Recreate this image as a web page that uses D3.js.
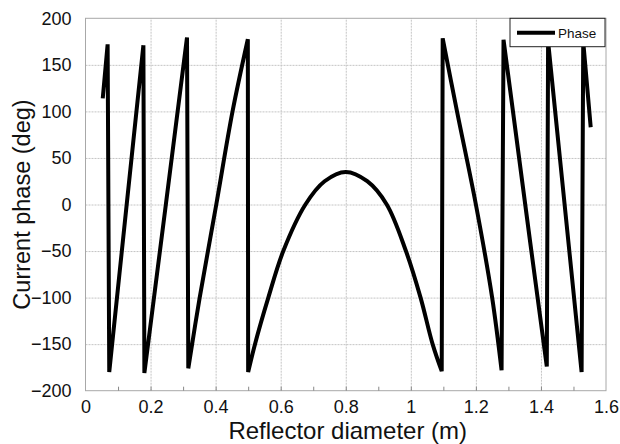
<!DOCTYPE html>
<html>
<head>
<meta charset="utf-8">
<script src="https://cdn.jsdelivr.net/npm/d3@7"></script>
<style>
  body { margin: 0; background: #fff; }
  svg { font-family: "Liberation Sans", Arial, sans-serif; }
</style>
</head>
<body>
<svg id="chart" width="620" height="444"></svg>
<script>
// phase vs reflector diameter
const diameter = [0.053, 0.068, 0.073, 0.1266, 0.178,
  0.181, 0.247, 0.312,
  0.316, 0.351, 0.402, 0.452, 0.499,
  0.500, 0.521, 0.562, 0.608, 0.676, 0.735, 0.800, 0.866, 0.926, 0.985, 1.030, 1.067, 1.095,
  1.098, 1.142, 1.200, 1.250, 1.279,
  1.285, 1.366, 1.418,
  1.422, 1.525,
  1.530, 1.553];
const phase = [114, 172, -180, 0, 171,
  -181, 0, 179.5,
  -176, -100, 0, 100, 177.5,
  -180, -150, -100, -50, 0, 25, 35, 25, 0, -50, -100, -150, -179,
  178.5, 100, 0, -100, -178,
  177, -38, -174,
  175, -180,
  175, 83];

const xTicks = [0, 0.2, 0.4, 0.6, 0.8, 1, 1.2, 1.4, 1.6];
const xMinorTicks = [0.1, 0.2, 0.3, 0.4, 0.5, 0.6, 0.7, 0.8, 0.9, 1, 1.1, 1.2, 1.3, 1.4, 1.5];
const yTicks = [-200, -150, -100, -50, 0, 50, 100, 150, 200];
const seriesName = 'Phase';
const xTitle = 'Reflector diameter (m)';
const yTitle = 'Current phase (deg)';

const margin = {left: 85.5, right: 606, top: 18.3, bottom: 390.7};
const svg = d3.select('#chart');

const x = d3.scaleLinear().domain([0, 1.6]).range([margin.left, margin.right]);
const y = d3.scaleLinear().domain([-200, 200]).range([margin.bottom, margin.top]);
const plotH = margin.bottom - margin.top;
const plotW = margin.right - margin.left;

// grid
svg.append('g')
    .attr('transform', `translate(0,${margin.bottom})`)
    .call(d3.axisBottom(x).tickValues(xTicks.slice(1, -1)).tickSize(-plotH).tickFormat(''))
    .call(g => g.select('.domain').remove())
    .selectAll('line').attr('stroke', '#c4c4c4').attr('stroke-dasharray', '2,1');
svg.append('g')
    .attr('transform', `translate(${margin.left},0)`)
    .call(d3.axisLeft(y).tickValues(yTicks.slice(1, -1)).tickSize(-plotW).tickFormat(''))
    .call(g => g.select('.domain').remove())
    .selectAll('line').attr('stroke', '#c4c4c4').attr('stroke-dasharray', '2,1');

// plot frame
svg.append('rect')
    .attr('x', margin.left).attr('y', margin.top)
    .attr('width', plotW).attr('height', plotH)
    .attr('fill', 'none').attr('stroke', '#a8a8a8');

// minor ticks on the bottom, pointing in
svg.append('g')
    .attr('transform', `translate(0,${margin.bottom})`)
    .call(d3.axisBottom(x).tickValues(xMinorTicks).tickSize(-4).tickFormat(''))
    .call(g => g.select('.domain').remove())
    .selectAll('line').attr('stroke', '#888');

// tick labels
svg.append('g')
    .attr('transform', `translate(0,${margin.bottom})`)
    .call(d3.axisBottom(x).tickValues(xTicks).tickSize(0).tickPadding(10).tickFormat(d3.format('')))
    .call(g => g.select('.domain').remove())
    .selectAll('text').attr('font-size', 18).attr('font-family', null).attr('fill', '#111');
svg.append('g')
    .attr('transform', `translate(${margin.left},0)`)
    .call(d3.axisLeft(y).tickValues(yTicks).tickSize(0).tickPadding(14))
    .call(g => g.select('.domain').remove())
    .selectAll('text').attr('font-size', 18).attr('font-family', null).attr('fill', '#111');

// the series: smooth each branch, keep the wrap-around jumps straight
const pts = diameter.map((d, i) => [d, phase[i]]);
const branches = [[pts[0]]];
for (let i = 1; i < pts.length; i++) {
    if (Math.abs(pts[i][1] - pts[i - 1][1]) > 180) branches.push([]);
    branches[branches.length - 1].push(pts[i]);
}
// one continuous path: later moveTo's become lineTo's (the jumps)
const buf = d3.path();
let started = false;
const ctx = {
    moveTo(a, b) { if (started) buf.lineTo(a, b); else buf.moveTo(a, b); started = true; },
    lineTo(a, b) { buf.lineTo(a, b); },
    bezierCurveTo(a, b, c, d, e, f) { buf.bezierCurveTo(a, b, c, d, e, f); },
    closePath() {}
};
const smooth = d3.line().x(d => x(d[0])).y(d => y(d[1]))
    .curve(d3.curveCatmullRom.alpha(0.5)).context(ctx);
branches.forEach(b => smooth(b));
svg.append('path')
    .attr('fill', 'none')
    .attr('stroke', '#000')
    .attr('stroke-width', 4)
    .attr('stroke-linejoin', 'miter')
    .attr('d', buf.toString());

// legend
const legend = svg.append('g').attr('transform', `translate(510,${margin.top})`);
legend.append('rect')
    .attr('width', 95).attr('height', 28.4)
    .attr('fill', '#fff').attr('stroke', '#222');
legend.append('line')
    .attr('x1', 7).attr('x2', 45).attr('y1', 14.5).attr('y2', 14.5)
    .attr('stroke', '#000').attr('stroke-width', 4);
legend.append('text')
    .attr('x', 48).attr('y', 20)
    .attr('font-size', 13.5).attr('fill', '#111')
    .text(seriesName);

// axis titles
svg.append('text')
    .attr('x', (margin.left + margin.right) / 2 + 2).attr('y', 439)
    .attr('text-anchor', 'middle').attr('font-size', 24).attr('fill', '#111')
    .text(xTitle);
svg.append('text')
    .attr('transform', `translate(30,${(margin.top + margin.bottom) / 2}) rotate(-90)`)
    .attr('text-anchor', 'middle').attr('font-size', 23.5).attr('fill', '#111')
    .text(yTitle);
</script>
</body>
</html>
